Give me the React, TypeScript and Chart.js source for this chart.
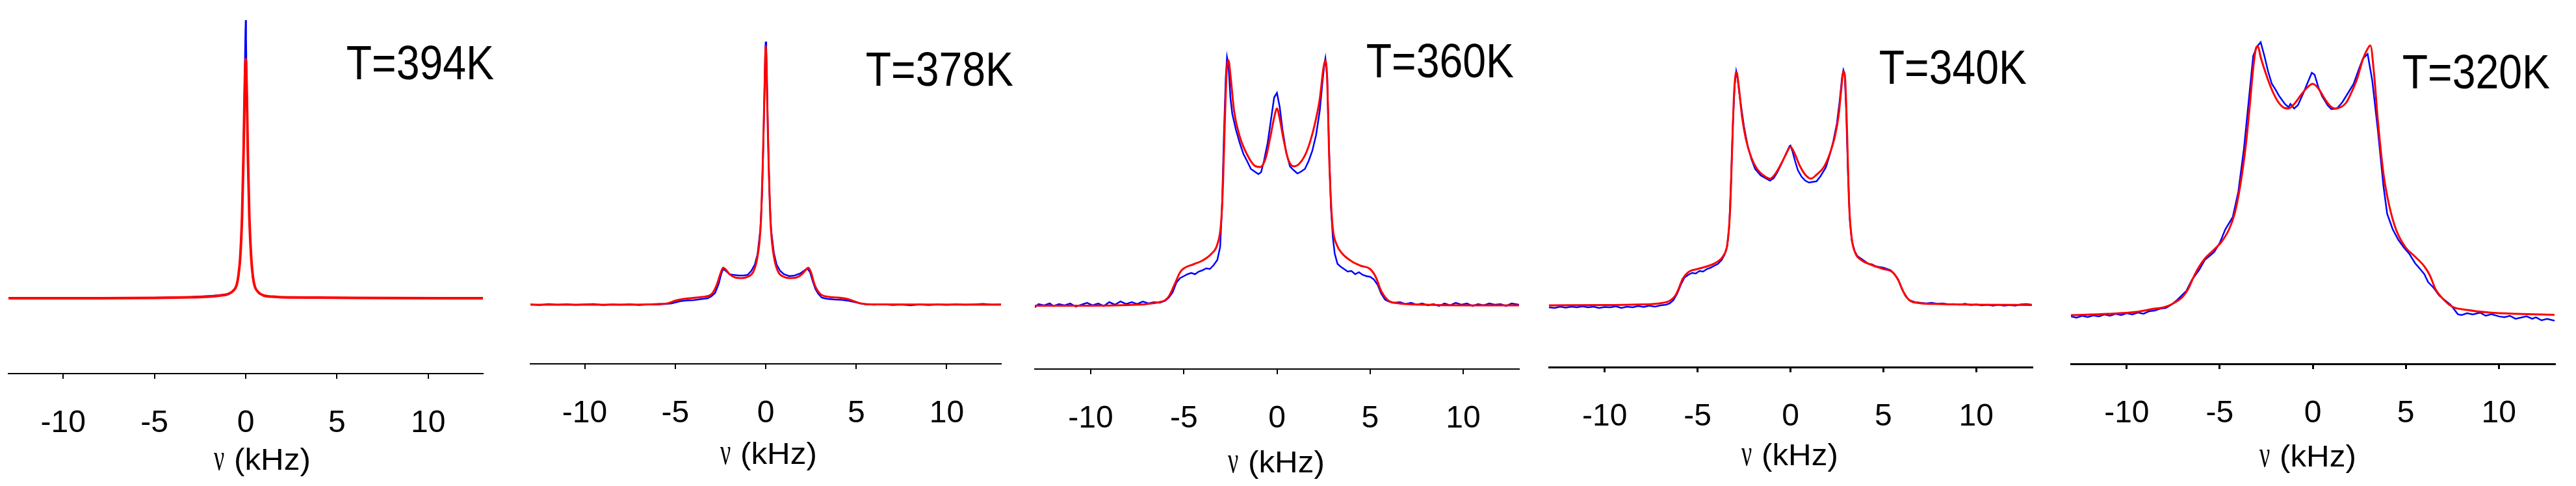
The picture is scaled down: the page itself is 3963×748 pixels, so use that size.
import { useEffect, useRef } from 'react';
import { Chart, registerables } from 'chart.js';

Chart.register(...registerables);

// frequency ticks (kHz) and panel temperatures
const freqTicks = [-10, -5, 0, 5, 10];
const temperatures = ['T=394K', 'T=378K', 'T=360K', 'T=340K', 'T=320K'];

// spectra: [nu (kHz), intensity (a.u.)]; exp = measured (blue), fit = simulation (red)
const exp394 = [[-13, 0], [-8, 0.3], [-5, 0.8], [-3, 2], [-2, 3.5], [-1.5, 4.5], [-1, 6.5], [-0.7, 11], [-0.5, 19], [-0.4, 33], [-0.3, 60], [-0.2, 125], [-0.12, 230], [-0.06, 330], [-0.02, 405], [0, 428], [0.02, 400], [0.06, 320], [0.12, 215], [0.2, 120], [0.3, 60], [0.4, 30], [0.5, 17], [0.7, 8], [1, 3.5], [1.5, 2], [2, 1.5], [4, 0.8], [6, 0.3], [13, 0]];
const fit394 = [[-13, 0], [-8, 0], [-5, 0.5], [-3, 1.4], [-2, 2.4], [-1.5, 3.8], [-1, 6], [-0.7, 11], [-0.5, 20], [-0.4, 35], [-0.3, 63], [-0.2, 125], [-0.12, 220], [-0.06, 316], [0, 368], [0.06, 316], [0.12, 220], [0.2, 125], [0.3, 63], [0.4, 32], [0.5, 18], [0.7, 9], [1, 4], [1.5, 2.4], [2, 1.4], [4, 1], [6, 0.5], [13, 0]];

const exp378 = [[-13, 0.5], [-12.5, -0.5], [-12, 1], [-11.5, 0], [-11, 0.8], [-10.5, -0.3], [-10, 0.5], [-9.5, 1], [-9, -0.5], [-8.5, 0.5], [-8, 0], [-7.5, 0.8], [-7, -0.4], [-6.5, 0.5], [-6, 0.3], [-5.5, 1.2], [-5.2, 2], [-5, 3.5], [-4.7, 5.5], [-4.4, 6.5], [-4, 7], [-3.6, 8.5], [-3.2, 10], [-3, 13], [-2.8, 18], [-2.6, 32], [-2.45, 48], [-2.35, 55], [-2.2, 52], [-2, 47], [-1.8, 46], [-1.5, 45], [-1.2, 45], [-1, 46], [-0.8, 52], [-0.6, 62], [-0.45, 78], [-0.3, 115], [-0.2, 170], [-0.12, 260], [-0.06, 340], [-0.02, 395], [0, 405], [0.03, 395], [0.07, 350], [0.12, 270], [0.2, 175], [0.3, 115], [0.45, 80], [0.6, 62], [0.8, 52], [1, 47], [1.3, 44], [1.6, 45], [1.9, 48], [2.1, 52], [2.3, 56], [2.45, 50], [2.6, 36], [2.75, 24], [2.9, 17], [3.1, 11], [3.4, 9], [3.8, 8], [4.2, 7.5], [4.6, 6], [5, 3.5], [5.3, 1.5], [5.6, 0.5], [6, 0], [6.5, 0.8], [7, -0.5], [7.5, 0.3], [8, -1], [8.5, 0.4], [9, -0.6], [9.5, 0.5], [10, -0.3], [10.5, 0.8], [11, 0], [11.5, 0.6], [12, 1.2], [12.5, 0.2], [13, 0.5]];
const fit378 = [[-13, 0], [-8, 0], [-6, 1], [-5.4, 2.4], [-5, 6.2], [-4.5, 9], [-4, 10.5], [-3.5, 12], [-3, 16], [-2.7, 31], [-2.5, 48], [-2.35, 57], [-2.2, 54], [-2, 47], [-1.7, 42], [-1.3, 41], [-1, 43], [-0.7, 50], [-0.5, 67], [-0.35, 95], [-0.25, 136], [-0.15, 231], [-0.07, 326], [0, 398], [0.07, 326], [0.15, 231], [0.25, 136], [0.35, 95], [0.5, 67], [0.7, 50], [1, 43], [1.3, 41], [1.7, 42], [2, 47], [2.2, 53], [2.35, 57], [2.5, 50], [2.7, 31], [3, 17], [3.5, 12], [4, 11], [4.5, 9], [4.8, 6.2], [5.2, 2.4], [5.8, 0.5], [13, 0]];

const exp360 = [[-13, -3], [-12.8, 2], [-12.5, 0], [-12.2, 3], [-12, -1], [-11.7, 2], [-11.4, 0], [-11.1, 3], [-10.8, -2], [-10.5, 1], [-10.2, 4], [-9.9, 0], [-9.6, 3], [-9.3, -1], [-9, 5], [-8.7, 1], [-8.4, 6], [-8.1, 2], [-7.8, 5], [-7.5, 2], [-7.2, 6], [-6.9, 3], [-6.6, 5], [-6.3, 4], [-6, 7], [-5.8, 12], [-5.6, 20], [-5.4, 35], [-5.2, 42], [-5, 45], [-4.8, 48], [-4.6, 50], [-4.4, 48], [-4.2, 52], [-4, 54], [-3.8, 57], [-3.6, 56], [-3.4, 62], [-3.2, 70], [-3.05, 90], [-2.95, 150], [-2.85, 260], [-2.75, 350], [-2.68, 382], [-2.6, 370], [-2.5, 320], [-2.4, 295], [-2.2, 270], [-2, 250], [-1.8, 233], [-1.6, 222], [-1.4, 210], [-1.2, 206], [-1, 202], [-0.85, 205], [-0.7, 222], [-0.5, 250], [-0.3, 290], [-0.15, 320], [0, 327], [0.15, 305], [0.3, 270], [0.5, 235], [0.7, 214], [0.9, 208], [1.1, 203], [1.3, 206], [1.5, 210], [1.7, 222], [1.9, 238], [2.1, 262], [2.3, 300], [2.45, 345], [2.55, 372], [2.6, 380], [2.7, 350], [2.8, 240], [2.9, 150], [3, 105], [3.1, 80], [3.25, 64], [3.4, 60], [3.6, 56], [3.8, 52], [4, 53], [4.2, 48], [4.4, 51], [4.6, 47], [4.8, 45], [5, 44], [5.2, 40], [5.4, 32], [5.6, 18], [5.8, 9], [6, 6], [6.3, 4], [6.6, 5], [6.9, 2], [7.2, 4], [7.5, 1], [7.8, 3], [8.1, 0], [8.4, 2], [8.7, -1], [9, 3], [9.3, 0], [9.6, 4], [9.9, 1], [10.2, 3], [10.5, -1], [10.8, 2], [11.1, 0], [11.4, 3], [11.7, 1], [12, 2], [12.3, -1], [12.6, 3], [13, 1]];
const fit360 = [[-13, -0.5], [-10, -0.5], [-8, 0.5], [-7, 2], [-6.2, 5.7], [-6, 8], [-5.8, 14], [-5.5, 32], [-5.2, 51], [-5, 57], [-4.5, 63], [-4, 69], [-3.5, 80], [-3.2, 94], [-3, 127], [-2.9, 184], [-2.8, 280], [-2.7, 360], [-2.6, 377], [-2.5, 355], [-2.3, 299], [-2, 260], [-1.6, 232], [-1.2, 215], [-0.9, 213], [-0.6, 227], [-0.35, 260], [-0.15, 289], [0, 303], [0.15, 287], [0.35, 256], [0.6, 225], [0.9, 214], [1.2, 218], [1.6, 237], [2, 275], [2.3, 318], [2.5, 366], [2.6, 377], [2.7, 346], [2.8, 232], [2.9, 160], [3, 118], [3.2, 94], [3.5, 80], [4, 68], [4.5, 61], [5, 56], [5.3, 44], [5.6, 22], [6, 7], [6.5, 3.3], [8, 1], [10, 0], [13, 0]];

const exp340 = [[-13, -3], [-12.7, -4], [-12.4, -2], [-12.1, -3.5], [-11.8, -2], [-11.5, -3], [-11.2, -1.5], [-10.9, -3], [-10.6, -2], [-10.3, -4], [-10, -2.5], [-9.7, -3], [-9.4, -1.5], [-9.1, -4], [-8.8, -2], [-8.5, -3], [-8.2, -1], [-7.9, -2.5], [-7.6, -0.5], [-7.3, -2], [-7, 0], [-6.7, 1], [-6.5, 3], [-6.3, 8], [-6.1, 18], [-5.9, 32], [-5.7, 43], [-5.5, 47], [-5.3, 50], [-5.1, 49], [-4.9, 53], [-4.7, 52], [-4.5, 56], [-4.3, 58], [-4.1, 61], [-3.9, 64], [-3.7, 70], [-3.55, 78], [-3.4, 92], [-3.3, 120], [-3.2, 190], [-3.1, 280], [-3, 340], [-2.92, 360], [-2.85, 350], [-2.7, 315], [-2.5, 275], [-2.3, 245], [-2.1, 225], [-1.9, 210], [-1.6, 200], [-1.3, 195], [-1.1, 192], [-0.9, 196], [-0.7, 205], [-0.45, 220], [-0.2, 236], [-0.05, 245], [0, 246], [0.1, 238], [0.25, 222], [0.4, 208], [0.6, 198], [0.8, 192], [1, 189], [1.2, 190], [1.4, 191], [1.6, 198], [1.9, 212], [2.1, 230], [2.3, 252], [2.5, 280], [2.65, 315], [2.78, 352], [2.85, 362], [2.92, 355], [3, 300], [3.1, 200], [3.2, 130], [3.3, 100], [3.45, 84], [3.6, 76], [3.8, 72], [4, 68], [4.2, 64], [4.4, 63], [4.6, 60], [4.8, 59], [5, 58], [5.2, 56], [5.4, 54], [5.6, 48], [5.8, 40], [6, 25], [6.2, 14], [6.4, 8], [6.7, 5], [7, 4], [7.3, 3], [7.6, 4], [7.9, 2.5], [8.2, 3], [8.5, 1.5], [8.8, 2], [9.1, 1], [9.4, 2.5], [9.7, 0.5], [10, 1.5], [10.3, 0], [10.6, 1], [10.9, -0.5], [11.2, 1], [11.5, -0.5], [11.8, 0.5], [12.1, -0.5], [12.4, 1.5], [12.7, 2], [13, 1]];
const fit340 = [[-13, 0], [-10, 0.5], [-8, 1.4], [-7, 3.3], [-6.5, 7], [-6.2, 15], [-6, 27], [-5.8, 41], [-5.5, 51], [-5, 56], [-4.5, 60], [-4, 66], [-3.6, 77], [-3.4, 94], [-3.25, 146], [-3.15, 232], [-3.05, 318], [-2.95, 356], [-2.9, 359], [-2.8, 341], [-2.6, 289], [-2.4, 256], [-2.1, 227], [-1.8, 210], [-1.4, 199], [-1.1, 195], [-0.8, 203], [-0.5, 218], [-0.25, 232], [0, 244], [0.25, 232], [0.5, 215], [0.8, 201], [1.1, 195], [1.4, 201], [1.8, 213], [2.1, 232], [2.4, 261], [2.6, 294], [2.75, 337], [2.85, 360], [2.95, 346], [3.05, 265], [3.15, 160], [3.3, 103], [3.5, 80], [3.8, 70], [4.3, 63], [5, 56], [5.5, 51], [5.8, 39], [6.1, 20], [6.4, 8], [7, 3.3], [8, 2], [10, 1], [13, 0.5]];

const exp320 = [[-13, -2], [-12.7, -4], [-12.4, -1], [-12.1, -3], [-11.8, -0.5], [-11.5, -2], [-11.2, 1], [-10.9, -1], [-10.6, 2], [-10.3, 0], [-10, 3], [-9.7, 1], [-9.4, 4], [-9.1, 2], [-8.8, 6], [-8.5, 7], [-8.2, 10], [-7.9, 11], [-7.6, 16], [-7.3, 23], [-6.8, 37], [-6.5, 54], [-6.1, 70], [-5.8, 85], [-5.3, 97], [-5, 111], [-4.7, 132], [-4.3, 151], [-4, 190], [-3.7, 256], [-3.4, 342], [-3.2, 399], [-3, 413], [-2.8, 420], [-2.6, 399], [-2.4, 375], [-2.2, 356], [-2, 347], [-1.8, 337], [-1.5, 325], [-1.3, 320], [-1.2, 325], [-1, 318], [-0.8, 323], [-0.5, 342], [-0.3, 356], [-0.05, 373], [0.1, 370], [0.3, 351], [0.5, 337], [0.8, 323], [1, 317], [1.3, 318], [1.6, 328], [1.9, 342], [2.2, 356], [2.5, 380], [2.7, 395], [2.95, 402], [3.2, 361], [3.5, 285], [3.8, 199], [4, 156], [4.3, 132], [4.6, 116], [4.9, 104], [5.2, 94], [5.5, 80], [5.8, 70], [6, 63], [6.2, 51], [6.5, 42], [6.8, 30], [7.1, 23], [7.4, 16], [7.6, 9], [7.8, 1.4], [8, 0], [8.3, 2.9], [8.6, 1], [9, 3.8], [9.3, -1], [9.6, 1.4], [10, -1.9], [10.3, -3.3], [10.6, -1], [10.9, -5.7], [11.2, -3.8], [11.5, -1.9], [11.8, -5.7], [12, -3.3], [12.3, -8], [12.6, -5.7], [13, -8.6]];
const fit320 = [[-13, 0], [-11, 2], [-9.5, 5], [-8.5, 10], [-8, 12], [-7.5, 18], [-7, 28], [-6.7, 40], [-6.4, 59], [-6.1, 75], [-5.8, 87], [-5.3, 101], [-4.9, 113], [-4.5, 132], [-4.2, 156], [-3.9, 199], [-3.6, 261], [-3.4, 318], [-3.2, 380], [-3.05, 411], [-2.95, 414], [-2.8, 397], [-2.5, 370], [-2.2, 347], [-1.9, 330], [-1.6, 320], [-1.3, 318], [-1, 325], [-0.6, 340], [-0.3, 350], [0, 356], [0.3, 349], [0.6, 335], [0.9, 323], [1.2, 318], [1.5, 320], [1.8, 327], [2.1, 344], [2.4, 365], [2.7, 394], [2.95, 410], [3.1, 415], [3.3, 370], [3.5, 300], [3.8, 218], [4.1, 170], [4.5, 130], [5, 104], [5.5, 90], [6, 75], [6.3, 61], [6.6, 40], [7, 25], [7.5, 13], [8.3, 8], [9.5, 4], [11, 2], [13, 0.5]];

const FONT = '"Liberation Sans", Arial, sans-serif';

const panels = [
  { label: temperatures[0], exp: exp394, fit: fit394, left: 0, width: 780, plotLeft: 13, plotRight: 743, axisY: 575, base: 459, axisW: 2, fitW: 4, tagX: 760, tagY: 122, unitX: 403, unitY: 723 },
  { label: temperatures[1], exp: exp378, fit: fit378, left: 780, width: 795, plotLeft: 816, plotRight: 1540, axisY: 560, base: 469, axisW: 2, fitW: 3, tagX: 1559, tagY: 132, unitX: 1182, unitY: 714 },
  { label: temperatures[2], exp: exp360, fit: fit360, left: 1575, width: 785, plotLeft: 1592, plotRight: 2337, axisY: 568, base: 470, axisW: 2, fitW: 3, tagX: 2329, tagY: 119, unitX: 1963, unitY: 727 },
  { label: temperatures[3], exp: exp340, fit: fit340, left: 2360, width: 800, plotLeft: 2383, plotRight: 3126, axisY: 565, base: 470, axisW: 3, fitW: 3, tagX: 3118, tagY: 129, unitX: 2753, unitY: 716 },
  { label: temperatures[4], exp: exp320, fit: fit320, left: 3160, width: 803, plotLeft: 3186, plotRight: 3930, axisY: 560, base: 485, axisW: 3, fitW: 3, tagX: 3923, tagY: 136, unitX: 3550, unitY: 718 },
];

const H = 748;

// temperature tag and the "ν (kHz)" axis label
const panelText = {
  id: 'panelText',
  afterDraw(chart: any, _args: any, o: any) {
    const ctx = chart.ctx;
    ctx.save();
    ctx.fillStyle = '#000';
    ctx.textBaseline = 'alphabetic';
    ctx.textAlign = 'right';
    ctx.font = `74px ${FONT}`;
    ctx.translate(o.tagX, o.tagY);
    ctx.scale(0.87, 1);
    ctx.fillText(o.label, 0, 0);
    ctx.restore();

    const x0 = o.unitX - 74;
    ctx.save();
    ctx.fillStyle = '#000';
    ctx.textBaseline = 'alphabetic';
    ctx.textAlign = 'left';
    ctx.translate(x0, o.unitY);
    ctx.scale(0.62, 1);
    ctx.font = '58px "Liberation Serif", "Times New Roman", serif';
    ctx.fillText('ν', 0, 0);
    ctx.restore();

    ctx.save();
    ctx.fillStyle = '#000';
    ctx.textBaseline = 'alphabetic';
    ctx.textAlign = 'left';
    ctx.translate(x0 + 31, o.unitY);
    ctx.scale(1.05, 1);
    ctx.font = `47px ${FONT}`;
    ctx.fillText('(kHz)', 0, 0);
    ctx.restore();
  },
};

const toXY = (arr: number[][]) => arr.map(([x, y]) => ({ x, y }));

function Panel({ p }: { p: any }) {
  const canva = useRef<HTMLCanvasElement | null>(null);

  useEffect(() => {
    if (!canva.current) return;
    const chart = new Chart(canva.current, {
      type: 'line',
      data: {
        datasets: [
          { label: 'exp', data: toXY(p.exp), borderColor: '#0000ff', borderWidth: 2.5, pointRadius: 0, tension: 0, order: 2 },
          { label: 'fit', data: toXY(p.fit), borderColor: '#ff0000', borderWidth: p.fitW, pointRadius: 0, cubicInterpolationMode: 'monotone', order: 1 },
        ],
      },
      options: {
        animation: false,
        responsive: false,
        devicePixelRatio: 1,
        layout: { padding: { left: p.plotLeft - p.left, right: p.left + p.width - p.plotRight, top: 0, bottom: 0 } },
        plugins: {
          legend: { display: false },
          tooltip: { enabled: false },
          panelText: {
            label: p.label,
            tagX: p.tagX - p.left,
            tagY: p.tagY,
            unitX: p.unitX - p.left,
            unitY: p.unitY,
          },
        } as any,
        scales: {
          x: {
            type: 'linear',
            min: -13,
            max: 13,
            afterBuildTicks: (s: any) => { s.ticks = freqTicks.map((v) => ({ value: v })); },
            afterFit: (s: any) => { s.height = H - p.axisY; },
            grid: { drawOnChartArea: false, drawTicks: true, tickLength: 8, color: '#000', lineWidth: p.axisW },
            border: { display: true, color: '#000', width: p.axisW },
            ticks: { color: '#000', font: { family: FONT, size: 48 }, padding: 40, maxRotation: 0, autoSkip: false },
          },
          y: { display: false, min: p.base - p.axisY, max: p.base },
        },
      },
      plugins: [panelText],
    });
    return () => { chart.destroy(); };
  }, []);

  return (
    <canvas
      ref={canva}
      width={p.width}
      height={H}
      style={{ position: 'absolute', left: p.left, top: 0, width: p.width, height: H }}
    />
  );
}

export default function App() {
  return (
    <div style={{ position: 'absolute', left: 0, top: 0, width: 3963, height: H, background: '#fff' }}>
      {panels.map((p) => <Panel key={p.label} p={p} />)}
    </div>
  );
}
